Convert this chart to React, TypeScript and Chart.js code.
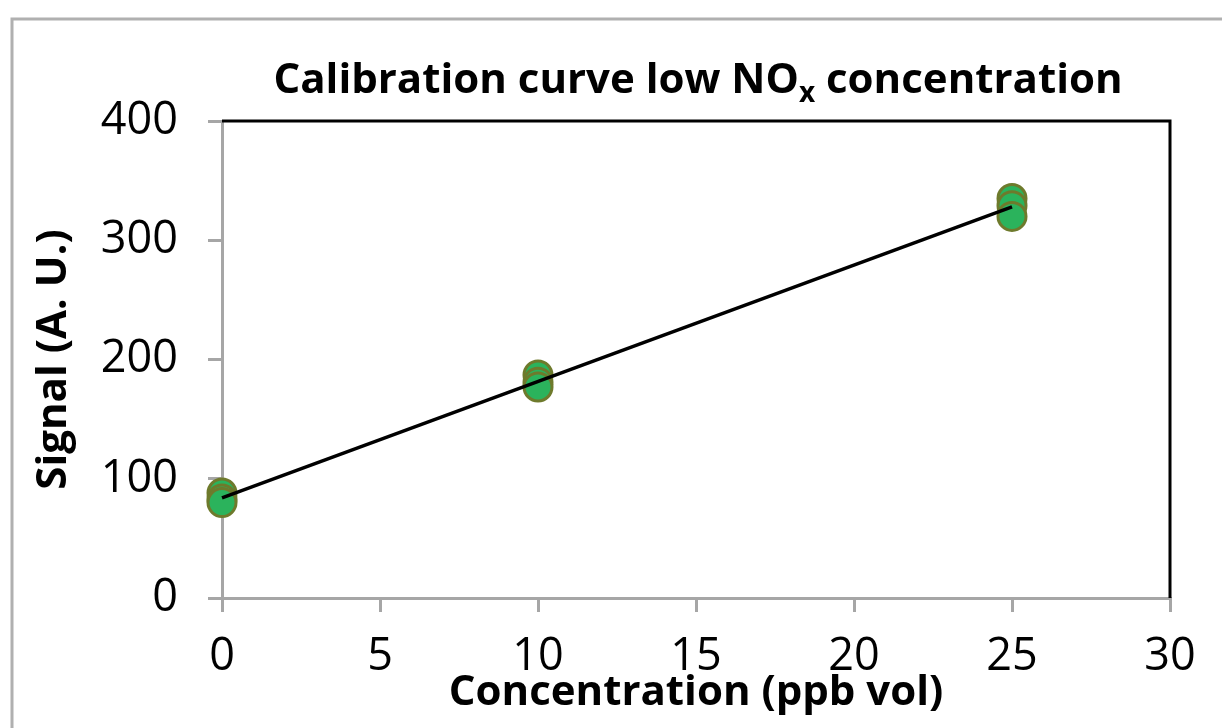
import React, { useEffect, useRef } from "react";
import { Chart, registerables } from "chart.js";

Chart.register(...registerables);

const concentration = [0, 0, 0, 10, 10, 10, 25, 25, 25];
const signal = [88, 83, 80, 187, 181, 177, 335, 329, 320];
const trendX = [0, 25];
const trendY = [84, 328];
const titleParts = ["Calibration curve low NO", "x", " concentration"];
const xTitle = "Concentration (ppb vol)";
const yTitle = "Signal (A. U.)";

const FONT = "'Open Sans', 'Noto Sans', sans-serif";
const GRAY = "#a6a6a6";

const framePlugin = {
  id: "framePlugin",
  beforeDraw(chart: any) {
    const ctx = chart.ctx;
    ctx.save();
    ctx.fillStyle = "#ffffff";
    ctx.fillRect(0, 0, chart.width, chart.height);
    ctx.strokeStyle = "#b0b0b0";
    ctx.lineWidth = 3;
    ctx.beginPath();
    ctx.moveTo(12, chart.height);
    ctx.lineTo(12, 19);
    ctx.lineTo(chart.width, 19);
    ctx.stroke();
    ctx.restore();
  },
  afterDraw(chart: any) {
    const ctx = chart.ctx;
    const a = chart.chartArea;
    ctx.save();
    ctx.strokeStyle = "#000000";
    ctx.lineWidth = 3;
    ctx.beginPath();
    ctx.moveTo(a.left, a.top);
    ctx.lineTo(a.right, a.top);
    ctx.lineTo(a.right, a.bottom);
    ctx.stroke();
    // title with subscript
    const big = `bold 42px ${FONT}`;
    const small = `bold 28px ${FONT}`;
    ctx.fillStyle = "#000000";
    ctx.textBaseline = "alphabetic";
    ctx.textAlign = "left";
    ctx.font = big;
    const w1 = ctx.measureText(titleParts[0]).width;
    const w3 = ctx.measureText(titleParts[2]).width;
    ctx.font = small;
    const w2 = ctx.measureText(titleParts[1]).width;
    const total = w1 + w2 + w3;
    const cx = 698;
    const base = 93;
    let x = cx - total / 2;
    ctx.font = big;
    ctx.fillText(titleParts[0], x, base);
    x += w1;
    ctx.font = small;
    ctx.fillText(titleParts[1], x, base + 9);
    x += w2;
    ctx.font = big;
    ctx.fillText(titleParts[2], x, base);
    ctx.restore();
  },
};

export default function App() {
  const ref = useRef<HTMLCanvasElement>(null);
  useEffect(() => {
    if (!ref.current) return;
    const chart = new Chart(ref.current, {
      type: "scatter",
      data: {
        datasets: [
          {
            type: "line",
            data: trendX.map((x, i) => ({ x, y: trendY[i] })),
            borderColor: "#000000",
            borderWidth: 3.5,
            pointRadius: 0,
            fill: false,
            order: 0,
            clip: false,
          } as any,
          {
            data: concentration.map((x, i) => ({ x, y: signal[i] })),
            backgroundColor: "#2bb35c",
            borderColor: "#6e7a2c",
            borderWidth: 3,
            pointRadius: 14,
            order: 1,
            clip: false,
          } as any,
        ],
      },
      options: {
        animation: false,
        responsive: false,
        devicePixelRatio: 1,
        layout: { padding: { left: 0, right: 52, top: 121, bottom: 0 } },
        plugins: { legend: { display: false }, tooltip: { enabled: false }, title: { display: false } },
        scales: {
          x: {
            type: "linear",
            min: 0,
            max: 30,
            afterFit: (s: any) => {
              s.height = 130;
            },
            ticks: { stepSize: 5, color: "#000", font: { family: FONT, size: 45 }, padding: 18, maxRotation: 0 },
            grid: { drawOnChartArea: false, drawTicks: true, tickLength: 14, color: GRAY, lineWidth: 3 },
            border: { color: GRAY, width: 3 },
            title: {
              display: true,
              text: xTitle,
              color: "#000",
              font: { family: FONT, size: 42, weight: "bold" },
              padding: { top: 0, bottom: 10 },
            },
          },
          y: {
            type: "linear",
            min: 0,
            max: 400,
            afterFit: (s: any) => {
              s.width = 222;
            },
            ticks: { stepSize: 100, color: "#000", font: { family: FONT, size: 45 }, padding: 30 },
            grid: { drawOnChartArea: false, drawTicks: true, tickLength: 14, color: GRAY, lineWidth: 3 },
            border: { color: GRAY, width: 3 },
            title: {
              display: true,
              text: yTitle,
              color: "#000",
              font: { family: FONT, size: 42, weight: "bold" },
              padding: { top: 29, bottom: 0 },
            },
          },
        },
      },
      plugins: [framePlugin],
    } as any);
    return () => chart.destroy();
  }, []);
  return (
    <div style={{ position: "absolute", left: 0, top: 0, width: 1222, height: 728 }}>
      <canvas ref={ref} width={1222} height={728} style={{ width: 1222, height: 728 }} />
    </div>
  );
}
